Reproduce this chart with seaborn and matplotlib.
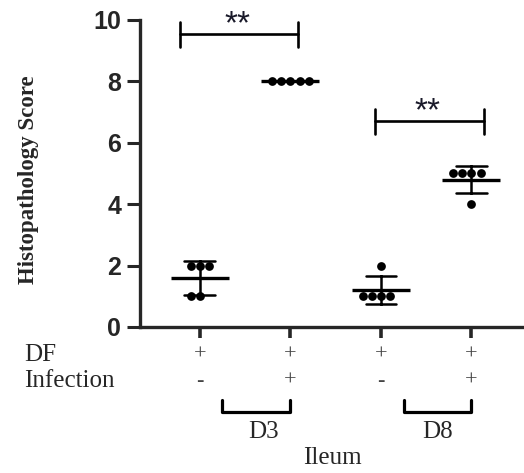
import numpy as np
import pandas as pd
import matplotlib
matplotlib.use('Agg')
import matplotlib.pyplot as plt
import matplotlib.transforms as mtransforms
import seaborn as sns

sns.set_style('ticks')
plt.rcParams['font.family'] = ['Liberation Sans', 'DejaVu Sans']

# Histopathology scores per group (n = 5)
groups = ['D3 DF', 'D3 DF+Inf', 'D8 DF', 'D8 DF+Inf']
d3_df = [2, 2, 2, 1, 1]
d3_df_inf = [8, 8, 8, 8, 8]
d8_df = [2, 1, 1, 1, 1]
d8_df_inf = [5, 5, 5, 5, 4]
df_row = ['+', '+', '+', '+']
inf_row = ['-', '+', '-', '+']
yticks = [0, 2, 4, 6, 8, 10]

data = pd.DataFrame({
    'group': np.repeat(groups, 5),
    'score': d3_df + d3_df_inf + d8_df + d8_df_inf,
})

fig = plt.figure(figsize=(5.24, 4.73), dpi=100)
ax = fig.add_axes([140 / 524, 1 - 327 / 473, 384 / 524, 307 / 473])

sns.swarmplot(data=data, x='group', y='score', order=groups, color='black',
              size=6.3, ax=ax, zorder=3)
# mean line + SD whiskers
sns.pointplot(data=data, x='group', y='score', order=groups, color='black',
              errorbar='sd', capsize=0.34, linestyle='none', marker='_',
              markersize=42, markeredgewidth=2.4, err_kws={'linewidth': 1.8},
              ax=ax, zorder=4)

ax.set_xlim(-0.66, 3.58)
ax.set_ylim(0, 10)
ax.set_yticks(yticks)
ax.set_yticklabels([str(t) for t in yticks], fontsize=18, fontweight='bold')
ax.set_xticks(range(4))
ax.set_xticklabels([])
ax.set_xlabel('')
ax.set_ylabel('Histopathology Score', family='Liberation Serif',
              fontweight='bold', fontsize=16.5)
ax.yaxis.set_label_coords(-0.262, 0.48)
ax.tick_params(axis='y', width=2.2, length=9.5, direction='out', pad=4)
ax.tick_params(axis='x', width=2.6, length=8, direction='out')
for s in ['left', 'bottom']:
    ax.spines[s].set_linewidth(2.4)
sns.despine(ax=ax)

# significance brackets
for x0, x1, yb, xt, yt in [(-0.22, 1.08, 9.54, 0.42, 9.84),
                           (1.94, 3.14, 6.7, 2.51, 7.0)]:
    ax.plot([x0, x1], [yb, yb], color='black', lw=1.9, clip_on=False)
    for xe in (x0, x1):
        ax.plot([xe, xe], [yb - 0.41, yb + 0.41], color='black', lw=1.9,
                clip_on=False)
    ax.text(xt, yt, '**', ha='center', va='center', fontsize=24,
            color='#1a1a2a', clip_on=False)

# treatment table under the axis
trans = mtransforms.blended_transform_factory(ax.transData, ax.transAxes)
serif = 'Liberation Serif'
for i in range(4):
    ax.text(i, -0.091, df_row[i], transform=trans, ha='center', va='center',
            fontsize=16, family=serif, color='#444444')
    ax.text(i, -0.176, inf_row[i], transform=trans, ha='center', va='center',
            fontsize=16, family=serif, color='#444444')
fig.text(24 / 524, 1 - 355 / 473, 'DF', ha='left', va='center',
         fontsize=18, family=serif)
fig.text(24 / 524, 1 - 381 / 473, 'Infection', ha='left', va='center',
         fontsize=18, family=serif)

for x0, x1, xt, lab in [(0.24, 1.0, 0.70, 'D3'), (2.25, 3.0, 2.62, 'D8')]:
    ax.plot([x0, x0, x1, x1], [-0.238, -0.277, -0.277, -0.238],
            color='black', lw=2.3, transform=trans, clip_on=False)
    ax.text(xt, -0.342, lab, transform=trans, ha='center', va='center',
            fontsize=18, family=serif)
ax.text(1.47, -0.427, 'Ileum', transform=trans, ha='center', va='center',
        fontsize=18, family=serif)

fig.savefig('out.png', dpi=100)
